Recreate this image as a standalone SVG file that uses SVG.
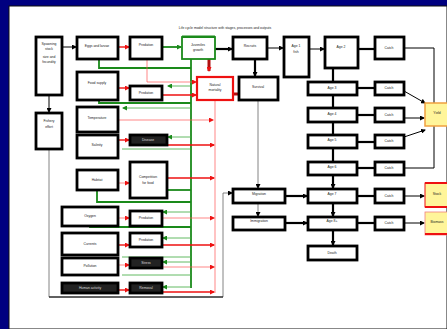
<svg xmlns="http://www.w3.org/2000/svg" width="447" height="329" viewBox="0 0 447 329">
<defs>
<style>
.b{fill:#fff;stroke:#000;stroke-width:2.8}
.bd{fill:#222;stroke:#000;stroke-width:2.8}
.t{font-family:"Liberation Sans",Arial,sans-serif;font-size:3.4px;fill:#222;text-anchor:middle}
.tw{font-family:"Liberation Sans",Arial,sans-serif;font-size:3.4px;fill:#ddd;text-anchor:middle}
.k{stroke:#000;stroke-width:1;fill:none}
.kk{stroke:#000;stroke-width:2.2;fill:none}
.g{stroke:#1a8a1a;stroke-width:1.8;fill:none}
.gl{stroke:#3aa83a;stroke-width:0.8;fill:none}
.r{stroke:#ee1111;stroke-width:1.4;fill:none}
.rl{stroke:#ff5555;stroke-width:0.7;fill:none}
.gr{stroke:#666;stroke-width:0.8;fill:none}
</style>
<marker id="ak" markerWidth="5" markerHeight="5" refX="4" refY="2.5" orient="auto" markerUnits="userSpaceOnUse"><path d="M0,0 L5,2.5 L0,5 z" fill="#000"/></marker>
<marker id="ag" markerWidth="5" markerHeight="5" refX="4" refY="2.5" orient="auto" markerUnits="userSpaceOnUse"><path d="M0,0 L5,2.5 L0,5 z" fill="#1a8a1a"/></marker>
<marker id="ar" markerWidth="5" markerHeight="5" refX="4" refY="2.5" orient="auto" markerUnits="userSpaceOnUse"><path d="M0,0 L5,2.5 L0,5 z" fill="#ee1111"/></marker>
</defs>
<rect x="0" y="0" width="447" height="329" fill="#000080"/>
<rect x="9" y="6" width="438" height="323" fill="#fff" stroke="#111" stroke-width="1"/>
<text x="225" y="29" class="t" style="font-size:3.4px">Life cycle model structure with stages, processes and outputs</text>

<g id="connectors">
<path class="k" d="M62,47 H76" marker-end="url(#ak)"/>
<path class="kk" d="M215,49 H232" marker-end="url(#ak)"/>
<path class="k" d="M267,48 H283" marker-end="url(#ak)"/>
<path class="k" d="M309,49 H324" marker-end="url(#ak)"/>
<path class="kk" d="M358,49 H375"/>
<path class="k" d="M49,95 V112" marker-end="url(#ak)"/>
<path class="kk" d="M255,59 V76" marker-end="url(#ak)"/>
<path class="gr" d="M49,149 V297 H223 V193 H232" marker-end="url(#ak)"/>
<path d="M49,297 H223" stroke="#000" stroke-width="1.2" fill="none"/>
<path class="gr" d="M258,100 V188" marker-end="url(#ak)"/>
<path class="gr" d="M258,203 V216" marker-end="url(#ak)"/>
<path class="kk" d="M285,196 H307" marker-end="url(#ak)"/>
<path class="kk" d="M285,223 H307" marker-end="url(#ak)"/>
<path class="kk" d="M333,68 V81"/>
<path class="kk" d="M333,95 V107"/>
<path class="kk" d="M333,122 V134"/>
<path class="kk" d="M333,148 V161"/>
<path class="kk" d="M333,175 V188" marker-end="url(#ak)"/>
<path class="kk" d="M333,203 V216" marker-end="url(#ak)"/>
<path class="kk" d="M333,230 V245" marker-end="url(#ak)"/>
<path class="kk" d="M357,88 H375"/>
<path class="kk" d="M357,115 H375"/>
<path class="kk" d="M357,142 H375"/>
<path class="kk" d="M357,168 H375"/>
<path class="kk" d="M357,196 H375"/>
<path class="kk" d="M357,223 H375"/>
<path class="k" d="M404,48 H434 V103"/>
<path class="k" d="M404,91 L425,103" marker-end="url(#ak)"/>
<path class="k" d="M404,118 H424" marker-end="url(#ak)"/>
<path class="k" d="M404,137 L425,130" marker-end="url(#ak)"/>
<path class="k" d="M404,168 H434 V126"/>
<path class="k" d="M404,196 H424" marker-end="url(#ak)"/>
<path class="k" d="M404,223 H424" marker-end="url(#ak)"/>

<path class="g" d="M99,59 V68 H191"/>
<path class="g" d="M191,59 V288"/>
<path class="g" d="M162,47 H181" marker-end="url(#ag)"/>
<path class="g" d="M99,100 V103 H191"/>
<path class="gl" d="M191,108 H123" marker-end="url(#ag)"/>
<path class="gl" d="M191,86 H168" marker-end="url(#ag)"/>
<path class="gl" d="M191,137 H168" marker-end="url(#ag)"/>
<path class="gl" d="M122,149 H191"/>
<path class="g" d="M167,190 H191"/>
<path class="g" d="M97,190 V202 H191"/>
<path class="gl" d="M191,212 H163" marker-end="url(#ag)"/>
<path class="g" d="M90,226 V227 H191"/>
<path class="gl" d="M191,238 H163" marker-end="url(#ag)"/>
<path class="gl" d="M122,257 H191"/>
<path class="gl" d="M191,262 H163" marker-end="url(#ag)"/>
<path class="gl" d="M122,275 H191"/>
<path class="gl" d="M191,287 H163" marker-end="url(#ag)"/>

<path class="r" d="M118,47 H129" marker-end="url(#ar)"/>
<path class="r" d="M118,88 H129" marker-end="url(#ar)"/>
<path class="rl" d="M147,59 V82 H196" marker-end="url(#ar)"/>
<path class="r" d="M162,95 H196" marker-end="url(#ar)"/>
<path d="M209,59 V71" stroke="#b01010" stroke-width="3" fill="none" marker-end="url(#ar)"/>
<path d="M233,94 H238" stroke="#b01010" stroke-width="3" fill="none"/>
<path class="rl" d="M215,100 V293"/>
<path class="rl" d="M118,120 H213" marker-end="url(#ar)"/>
<path class="r" d="M118,140 H129" marker-end="url(#ar)"/>
<path class="r" d="M167,145 H214" marker-end="url(#ar)"/>
<path class="rl" d="M118,183 H129" marker-end="url(#ar)"/>
<path class="r" d="M167,178 H214" marker-end="url(#ar)"/>
<path class="rl" d="M118,218 H129" marker-end="url(#ar)"/>
<path class="rl" d="M162,218 H214" marker-end="url(#ar)"/>
<path class="r" d="M118,245 H129" marker-end="url(#ar)"/>
<path class="r" d="M162,245 H214" marker-end="url(#ar)"/>
<path class="rl" d="M118,265 H129" marker-end="url(#ar)"/>
<path class="rl" d="M162,267 H214" marker-end="url(#ar)"/>
<path class="r" d="M118,290 H129" marker-end="url(#ar)"/>
<path class="r" d="M162,292 H214" marker-end="url(#ar)"/>
</g>

<g id="n1"><rect class="b" x="36" y="37" width="26" height="58"/><text class="t" x="49" y="45">Spawning</text><text class="t" x="49" y="50">stock</text><text class="t" x="49" y="58">size and</text><text class="t" x="49" y="63">fecundity</text></g>
<g id="n2"><rect class="b" x="36" y="113" width="26" height="36"/><text class="t" x="49" y="122">Fishery</text><text class="t" x="49" y="128">effort</text></g>
<g id="n3"><rect class="b" x="77" y="37" width="41" height="22"/><text class="t" x="97" y="47">Eggs and larvae</text></g>
<g id="n4"><rect class="b" x="130" y="37" width="32" height="22"/><text class="t" x="146" y="46">Predation</text></g>
<g id="n5"><rect x="182" y="37" width="33" height="22" fill="#fff" stroke="#1a8a1a" stroke-width="1.8"/><rect x="182" y="35.5" width="33" height="2.5" fill="#1a8a1a"/><text class="t" x="198" y="46">Juveniles</text><text class="t" x="198" y="51">growth</text></g>
<g id="n6"><rect class="b" x="233" y="37" width="34" height="22"/><text class="t" x="250" y="47">Recruits</text></g>
<g id="n7"><rect class="b" x="284" y="37" width="25" height="40"/><text class="t" x="296" y="47">Age 1</text><text class="t" x="296" y="53">fish</text></g>
<g id="n8"><rect class="b" x="325" y="37" width="33" height="31"/><text class="t" x="341" y="48">Age 2</text></g>
<g id="n9"><rect class="b" x="375" y="37" width="29" height="22"/><text class="t" x="389" y="49">Catch</text></g>
<g id="n10"><rect class="b" x="77" y="72" width="41" height="28"/><text class="t" x="97" y="84">Food supply</text></g>
<g id="n11"><rect class="b" x="130" y="86" width="32" height="14"/><text class="t" x="146" y="94">Predation</text></g>
<g id="n12"><rect x="197" y="77" width="36" height="23" fill="#fff" stroke="#ee1111" stroke-width="2.2"/><text class="t" x="215" y="86">Natural</text><text class="t" x="215" y="91">mortality</text></g>
<g id="n13"><rect class="b" x="239" y="77" width="39" height="23"/><text class="t" x="258" y="88">Survival</text></g>
<g id="n14"><rect class="b" x="77" y="107" width="41" height="25"/><text class="t" x="97" y="119">Temperature</text></g>
<g id="n15"><rect class="b" x="77" y="135" width="41" height="23"/><text class="t" x="97" y="146">Salinity</text></g>
<g id="n16"><rect class="bd" x="130" y="135" width="37" height="10"/><text class="tw" x="148" y="141">Disease</text></g>
<g id="n17"><rect class="b" x="77" y="170" width="41" height="20"/><text class="t" x="97" y="181">Habitat</text></g>
<g id="n18"><rect class="b" x="130" y="162" width="37" height="36"/><text class="t" x="148" y="178">Competition</text><text class="t" x="148" y="184">for food</text></g>
<g id="n19"><rect class="b" x="62" y="207" width="56" height="19"/><text class="t" x="90" y="217">Oxygen</text></g>
<g id="n20"><rect class="b" x="130" y="211" width="32" height="15"/><text class="t" x="146" y="219">Predation</text></g>
<g id="n21"><rect class="b" x="62" y="233" width="56" height="22"/><text class="t" x="90" y="245">Currents</text></g>
<g id="n22"><rect class="b" x="130" y="233" width="32" height="14"/><text class="t" x="146" y="241">Predation</text></g>
<g id="n23"><rect class="b" x="62" y="258" width="56" height="17"/><text class="t" x="90" y="267">Pollution</text></g>
<g id="n24"><rect class="bd" x="130" y="258" width="32" height="10"/><text class="tw" x="146" y="264">Stress</text></g>
<g id="n25"><rect class="bd" x="62" y="283" width="56" height="10"/><text class="tw" x="90" y="289">Human activity</text></g>
<g id="n26"><rect class="bd" x="130" y="283" width="32" height="10"/><text class="tw" x="146" y="289">Removal</text></g>
<g id="n27"><rect class="b" x="308" y="82" width="49" height="13"/><text class="t" x="332" y="89">Age 3</text></g>
<g id="n28"><rect class="b" x="375" y="82" width="29" height="13"/><text class="t" x="389" y="89">Catch</text></g>
<g id="n29"><rect class="b" x="308" y="108" width="49" height="14"/><text class="t" x="332" y="115">Age 4</text></g>
<g id="n30"><rect class="b" x="375" y="108" width="29" height="14"/><text class="t" x="389" y="116">Catch</text></g>
<g id="n31"><rect class="b" x="308" y="135" width="49" height="13"/><text class="t" x="332" y="141">Age 5</text></g>
<g id="n32"><rect class="b" x="375" y="135" width="29" height="13"/><text class="t" x="389" y="142">Catch</text></g>
<g id="n33"><rect class="b" x="308" y="162" width="49" height="13"/><text class="t" x="332" y="168">Age 6</text></g>
<g id="n34"><rect class="b" x="375" y="162" width="29" height="13"/><text class="t" x="389" y="169">Catch</text></g>
<g id="n35"><rect class="b" x="233" y="189" width="52" height="14"/><text class="t" x="259" y="195">Migration</text></g>
<g id="n36"><rect class="b" x="308" y="189" width="49" height="14"/><text class="t" x="332" y="195">Age 7</text></g>
<g id="n37"><rect class="b" x="375" y="189" width="29" height="14"/><text class="t" x="389" y="197">Catch</text></g>
<g id="n38"><rect class="b" x="233" y="217" width="52" height="13"/><text class="t" x="259" y="222">Immigration</text></g>
<g id="n39"><rect class="b" x="308" y="217" width="49" height="13"/><text class="t" x="332" y="222">Age 8+</text></g>
<g id="n40"><rect class="b" x="375" y="217" width="29" height="13"/><text class="t" x="389" y="224">Catch</text></g>
<g id="n41"><rect class="b" x="308" y="246" width="49" height="14"/><text class="t" x="332" y="254">Death</text></g>
<g id="y1"><rect x="425" y="103" width="24" height="23" fill="#fff59a" stroke="#f0a040" stroke-width="1.5"/><text class="t" x="437" y="114">Yield</text></g>
<g id="y2"><rect x="425" y="183" width="24" height="24" fill="#fff59a" stroke="#ee1111" stroke-width="1"/><rect x="425" y="182" width="24" height="2" fill="#ee1111"/><rect x="425" y="206" width="24" height="2" fill="#ee1111"/><text class="t" x="437" y="195">Stock</text></g>
<g id="y3"><rect x="425" y="212" width="24" height="23" fill="#fff59a" stroke="#f08080" stroke-width="0.8"/><rect x="425" y="233" width="24" height="2" fill="#ee1111"/><text class="t" x="437" y="223">Biomass</text></g>
</svg>
